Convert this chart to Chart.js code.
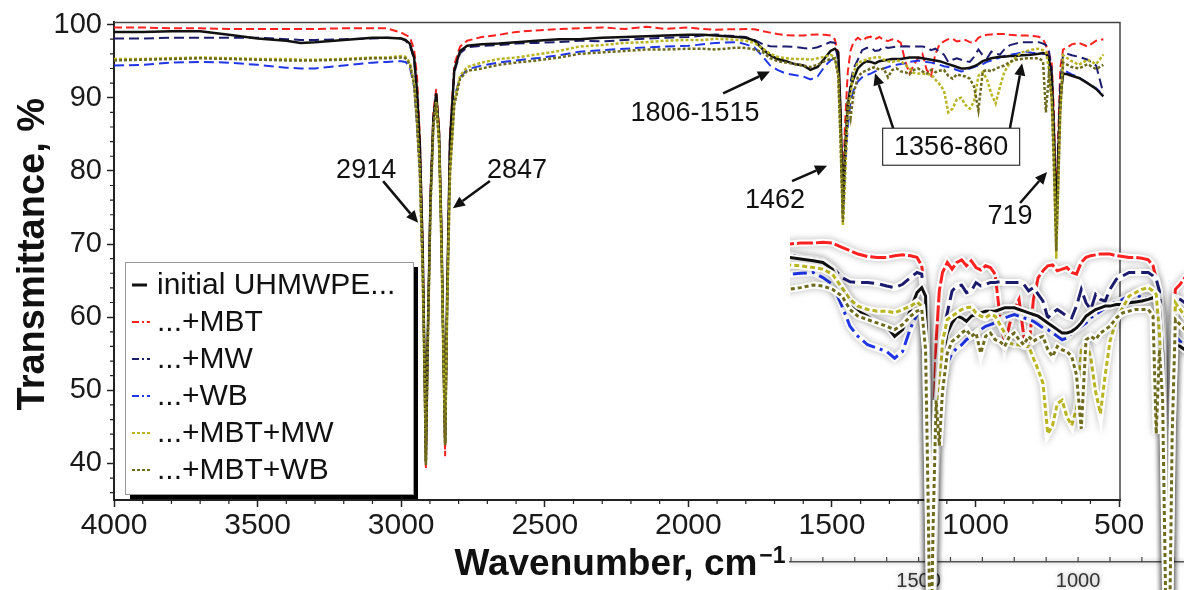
<!DOCTYPE html>
<html>
<head>
<meta charset="utf-8">
<title>FTIR spectra of UHMWPE composites</title>
<script src="https://cdn.jsdelivr.net/npm/chart.js@4.4.1/dist/chart.umd.min.js"></script>
<style>
  html, body { margin: 0; padding: 0; background: #fff; }
  #wrap { position: relative; width: 1184px; height: 590px; overflow: hidden; }
  #main, #inset { position: absolute; }
  #main { left: 0; top: 0; }
  #inset { left: 770px; top: 225px; }
</style>
</head>
<body>
<div id="wrap">
  <canvas id="main" width="1184" height="590"></canvas>
  <canvas id="inset" width="414" height="365"></canvas>
</div>
<script>
// --- DATA (wavenumber, cm-1 / transmittance, %) ---
const wavenumbers = [
  4000, 3900, 3800, 3700, 3600, 3500, 3400, 3350, 3300, 3200, 3100, 3050, 3000,
  2985, 2970, 2955, 2945, 2935, 2925, 2918, 2914, 2908, 2898, 2888, 2878, 2868, 2860, 2853, 2847, 2840, 2830, 2815, 2795, 2770,
  2720, 2660, 2600, 2530, 2450, 2380, 2300, 2220, 2145, 2080, 2000, 1950,
  1905, 1870, 1830, 1800, 1770, 1740, 1715, 1690, 1660, 1630,
  1600, 1575, 1550, 1525, 1505, 1490, 1478, 1470, 1462, 1455,
  1445, 1435, 1425, 1410, 1395, 1380, 1365, 1350, 1335, 1320,
  1305, 1290, 1275, 1260, 1245, 1230, 1215, 1200, 1185, 1170,
  1155, 1140, 1125, 1110, 1095, 1080, 1065, 1050, 1035, 1020,
  1005, 990, 975, 960, 945, 930, 915, 900, 880, 860,
  840, 820, 800, 780, 765, 755, 745, 735, 727, 719,
  712, 705, 695, 680, 665,
  640, 610, 580, 555
];

const initialUhmwpe = [
  99.0, 99.0, 99.1, 99.1, 98.6, 98.1, 97.8, 97.5, 97.6, 97.9, 98.2, 98.2, 98.1,
  97.9, 97.4, 95.5, 91.0, 83.5, 69.0, 52.0, 40.3, 56.0, 76.0, 87.0, 90.6, 85.0, 72.0, 56.0, 42.8, 63.0, 84.0, 93.8, 96.4, 97.1,
  97.3, 97.4, 97.6, 97.8, 98.0, 98.0, 98.2, 98.3, 98.4, 98.5, 98.6, 98.6,
  98.5, 98.4, 98.3, 98.2, 97.8, 96.6, 95.8, 95.3, 95.0, 94.6,
  94.4, 93.8, 94.2, 95.4, 96.4, 96.7, 96.2, 88.0, 74.0, 82.0,
  89.0, 91.4, 92.6, 94.0, 94.6, 95.0, 94.9, 94.7, 95.0, 95.1,
  95.2, 95.3, 95.3, 95.3, 95.4, 95.5, 95.5, 95.5, 95.4, 95.3,
  95.2, 95.1, 95.0, 94.8, 94.6, 94.4, 94.2, 94.0, 94.0, 94.1,
  94.3, 94.6, 95.0, 95.2, 95.4, 95.5, 95.6, 95.6, 95.7, 95.7,
  95.8, 95.85, 95.9, 96.0, 96.1, 96.0, 95.5, 93.0, 85.0, 72.0,
  82.0, 90.0, 93.3, 93.2, 93.0,
  92.7, 92.0, 91.2, 90.2
];

const plusMbt = [
  99.6, 99.6, 99.5, 99.5, 99.4, 99.4, 99.4, 99.4, 99.4, 99.5, 99.5, 99.5, 98.9,
  98.6, 98.3, 96.6, 93.0, 84.5, 70.0, 52.0, 39.2, 55.0, 77.0, 88.0, 91.2, 86.0, 72.0, 55.0, 41.0, 62.0, 85.0, 94.5, 97.0, 97.8,
  98.3, 98.6, 99.0, 99.2, 99.4, 99.5, 99.6, 99.4, 99.7, 99.4, 99.6, 99.4,
  99.3, 99.35, 99.35, 99.4, 99.35, 99.1, 98.9, 98.7, 98.55, 98.5,
  98.5, 98.6, 98.65, 98.6, 98.5, 98.0, 96.0, 88.0, 76.0, 86.0,
  93.5, 96.5, 97.6, 98.2, 97.8, 98.2, 98.35, 98.0, 98.3, 97.9,
  97.75, 98.0, 97.9, 97.5, 95.0, 93.3, 94.5, 95.4, 96.0, 93.8,
  93.0, 96.0, 97.3, 97.7, 98.0, 98.05, 97.7, 97.8, 97.9, 97.6,
  97.5, 98.2, 98.5, 98.6, 98.65, 98.7, 98.7, 98.7, 98.6, 98.55,
  98.5, 98.5, 98.45, 98.35, 98.0, 97.2, 96.0, 95.0, 88.0, 74.0,
  85.0, 94.0, 96.6, 96.9, 97.3,
  97.5, 97.0, 97.8, 98.0
];

const plusMw = [
  98.1, 98.1, 98.2, 98.2, 98.2, 98.2, 98.0, 97.9, 97.9, 98.0, 98.1, 98.2, 98.1,
  97.8, 97.2, 95.2, 90.5, 83.0, 68.5, 52.0, 40.3, 56.0, 76.0, 87.0, 90.2, 85.0, 72.0, 56.0, 42.8, 63.0, 84.0, 93.5, 96.1, 96.9,
  97.1, 97.2, 97.4, 97.5, 97.6, 97.8, 97.7, 97.9, 98.1, 98.2, 98.3, 98.5,
  98.65, 98.5, 98.4, 98.3, 97.9, 97.3, 97.05, 97.0, 97.0, 96.95,
  96.8, 96.7, 96.9, 97.3, 97.6, 97.5, 95.0, 86.0, 75.0, 80.0,
  88.0, 92.2, 94.0, 95.2, 96.5, 96.8, 96.85, 96.4, 96.5, 97.0,
  96.8, 96.9, 97.0, 97.0, 97.05, 97.0, 97.0, 97.0, 97.0, 96.9,
  96.5, 96.7, 96.3, 95.9, 94.9, 95.2, 95.4, 95.2, 95.0, 94.9,
  95.6, 96.6, 95.8, 95.4, 96.3, 96.0, 95.9, 96.6, 97.2, 97.4,
  97.6, 97.6, 97.6, 97.6, 97.4, 97.2, 96.5, 94.0, 86.0, 73.0,
  83.0, 92.0, 96.1, 96.0, 95.8,
  95.6, 95.2, 94.4, 90.6
];

const plusWb = [
  94.4, 94.5, 94.8, 94.9, 94.8, 94.5, 94.1, 94.0, 94.0, 94.4, 94.8, 94.9, 95.0,
  94.9, 94.2, 91.5, 86.5, 79.5, 66.0, 51.0, 40.3, 56.0, 76.0, 87.0, 90.0, 84.0, 70.0, 55.0, 42.8, 61.0, 80.5, 90.0, 92.8, 93.9,
  94.4, 94.8, 95.1, 95.4, 95.8, 96.3, 96.5, 96.7, 96.9, 97.0, 97.1, 97.3,
  97.5, 97.55, 97.6, 97.3, 96.9, 95.6, 94.4, 93.8, 93.3, 93.1,
  92.9, 92.5, 92.9, 94.3, 95.1, 95.4, 94.5, 87.0, 74.0, 80.0,
  86.0, 89.5, 91.0, 92.2, 92.8, 93.1, 93.3, 93.6, 93.8, 94.0,
  94.2, 94.4, 94.5, 94.6, 94.7, 94.9, 95.0, 95.1, 95.0, 94.9,
  94.8, 94.7, 94.5, 94.3, 94.2, 94.0, 93.8, 93.6, 93.7, 94.0,
  94.2, 94.4, 94.6, 94.9, 95.1, 95.3, 95.5, 95.7, 95.85, 96.0,
  96.2, 96.3, 96.1, 96.1, 96.0, 96.0, 95.5, 92.0, 84.0, 71.0,
  80.0, 89.0, 93.8, 93.5, 93.2,
  92.8, 92.0, 91.3, 90.4
];

const plusMbtMw = [
  95.3, 95.3, 95.4, 95.5, 95.4, 95.3, 95.3, 95.2, 95.2, 95.3, 95.5, 95.5, 95.7,
  95.6, 94.8, 92.0, 87.0, 80.0, 66.0, 51.0, 40.3, 55.0, 75.0, 86.0, 89.5, 84.0, 70.0, 55.0, 42.8, 61.0, 80.0, 89.5, 93.0, 94.2,
  94.8, 95.3, 95.5, 95.9, 96.4, 97.0, 97.2, 97.5, 97.6, 97.8, 97.9, 97.9,
  98.05, 98.0, 97.9, 97.8, 97.5, 96.7, 96.0, 95.6, 95.4, 95.3,
  95.3, 95.2, 95.4, 95.6, 95.85, 95.6, 93.0, 84.0, 72.5, 78.0,
  88.2, 90.5, 93.5, 94.8, 95.0, 95.2, 95.4, 95.5, 95.55, 95.2,
  95.0, 94.9, 95.1, 95.0, 94.5, 94.0, 93.4, 93.3, 93.3, 93.2,
  93.2, 92.5, 91.8, 91.0, 88.0, 88.5, 89.8, 90.0, 89.0, 88.5,
  89.5, 93.0, 93.5, 92.5, 90.5, 89.2, 91.5, 93.5, 94.8, 95.5,
  96.2, 96.4, 96.6, 96.7, 96.5, 96.3, 94.0, 90.0, 82.0, 68.0,
  78.0, 88.0, 95.8, 95.4, 95.0,
  94.5, 95.2, 94.6, 95.9
];

const plusMbtWb = [
  95.1, 95.2, 95.3, 95.4, 95.3, 95.2, 95.1, 95.1, 95.1, 95.2, 95.4, 95.4, 95.5,
  95.4, 94.6, 91.8, 86.5, 79.5, 65.5, 50.5, 39.8, 55.0, 75.0, 86.0, 89.3, 83.5, 70.0, 55.0, 42.5, 60.5, 79.5, 89.0, 92.6, 93.7,
  94.0, 94.5, 94.8, 95.1, 95.5, 96.0, 96.2, 96.4, 96.6, 96.6, 96.7, 96.7,
  96.6, 96.7, 96.85, 96.8, 96.6, 96.2, 95.4, 95.0, 94.8, 94.6,
  94.4, 94.2, 94.5, 95.0, 95.3, 95.4, 93.0, 84.0, 73.0, 82.0,
  90.0, 87.3, 90.5, 92.8, 93.5, 93.7, 94.0, 94.2, 93.8, 94.0,
  92.8, 93.8, 94.0, 93.6, 93.5, 93.2, 93.8, 94.0, 93.6, 93.3,
  93.8, 93.5, 93.7, 93.8, 93.0, 92.6, 93.2, 93.0, 92.9, 92.6,
  91.5, 88.3, 93.6, 93.8, 93.6, 94.0, 94.2, 94.4, 94.9, 95.2,
  95.3, 95.4, 95.4, 95.4, 95.0, 88.0, 93.0, 90.0, 80.0, 69.0,
  78.0, 88.0, 94.8, 94.5, 94.2,
  94.0, 94.6, 93.9, 94.5
];

const seriesLabels = ['initial UHMWPE...', '...+MBT', '...+MW', '...+WB', '...+MBT+MW', '...+MBT+WB'];
const seriesValues = [initialUhmwpe, plusMbt, plusMw, plusWb, plusMbtMw, plusMbtWb];

const xTicksMain = [4000, 3500, 3000, 2500, 2000, 1500, 1000, 500];
const yTicksMain = [40, 50, 60, 70, 80, 90, 100];
const xTicksInset = [1900, 1800, 1700, 1600, 1500, 1400, 1300, 1200, 1100, 1000, 900, 800, 700];
const xLabelsInset = [1500, 1000];

// peak labels and arrows, anchored in data units (wavenumber, %T)
const peakLabels = [
  { text: '2914', wn: 3122, t: 80.1 },
  { text: '2847', wn: 2597, t: 80.1 },
  { text: '1806-1515', wn: 1977, t: 87.9 },
  { text: '1462', wn: 1698, t: 76.0 },
  { text: '719', wn: 880, t: 73.7 }
];
const boxedLabel = { text: '1356-860', wn: 1085, t: 83.3 };
const peakArrows = [
  [3063, 78.6, 2941, 72.9],
  [2691, 78.6, 2820, 74.9],
  [1879, 90.6, 1716, 93.6],
  [1639, 78.6, 1517, 80.7],
  [845, 75.6, 751, 79.85],
  [1287, 85.85, 1350, 93.35],
  [880, 85.85, 838, 94.7]
];

// --- STYLES ---
const FONT = "'Liberation Sans', Arial, Helvetica, sans-serif";
const STYLES = [
  { color: '#111111', width: 2.5, dash: [], insetDash: [], legendDash: [], order: 2 },
  { color: '#ff2020', width: 2, dash: [8, 4], insetDash: [16, 3], legendDash: [7, 3, 2, 3], order: 5 },
  { color: '#1c1c6e', width: 2, dash: [10, 5], insetDash: [13, 6], legendDash: [7, 3, 2, 3], order: 4 },
  { color: '#1f35e6', width: 2, dash: [10, 5], insetDash: [14, 5, 3, 5], legendDash: [7, 3, 2, 3], order: 3 },
  { color: '#b8b422', width: 2.5, dash: [3, 2], insetDash: [5, 3], legendDash: [3, 2], order: 1 },
  { color: '#6e6a1e', width: 2.5, dash: [3, 2], insetDash: [4, 3], legendDash: [3, 2], order: 0 }
];

const toPoints = (vals) => wavenumbers.map((x, i) => ({ x, y: vals[i] }));

const drawArrow = (ctx, x1, y1, x2, y2) => {
  const ang = Math.atan2(y2 - y1, x2 - x1);
  const head = 12, half = 5.5;
  const bx = x2 - head * Math.cos(ang), by = y2 - head * Math.sin(ang);
  ctx.beginPath(); ctx.moveTo(x1, y1); ctx.lineTo(bx, by); ctx.stroke();
  ctx.beginPath(); ctx.moveTo(x2, y2);
  ctx.lineTo(bx + half * Math.sin(ang), by - half * Math.cos(ang));
  ctx.lineTo(bx - half * Math.sin(ang), by + half * Math.cos(ang));
  ctx.closePath(); ctx.fill();
};

// --- MAIN CHART DECORATION (frame, minor ticks, titles, legend, peak labels) ---
const mainDecor = {
  id: 'mainDecor',
  afterDraw(chart) {
    const { ctx, chartArea: a, scales: { x, y } } = chart;
    ctx.save();

    // top / right frame
    ctx.strokeStyle = '#444'; ctx.lineWidth = 1.5;
    ctx.beginPath(); ctx.moveTo(a.left, a.top); ctx.lineTo(a.right, a.top); ctx.lineTo(a.right, a.bottom); ctx.stroke();

    // minor ticks
    ctx.strokeStyle = '#222'; ctx.lineWidth = 1.2;
    ctx.beginPath();
    for (let v = 600; v < 4000; v += 100) {
      if (v % 500 === 0) continue;
      const px = x.getPixelForValue(v);
      ctx.moveTo(px, a.bottom); ctx.lineTo(px, a.bottom + 4);
    }
    for (let v = 36; v < 100; v += 2) {
      if (v % 10 === 0) continue;
      const py = y.getPixelForValue(v);
      ctx.moveTo(a.left, py); ctx.lineTo(a.left - 4, py);
    }
    ctx.stroke();

    // axis titles
    ctx.fillStyle = '#111';
    ctx.save();
    ctx.translate(44, (a.top + a.bottom) / 2 - 7);
    ctx.rotate(-Math.PI / 2);
    ctx.font = `bold 38px ${FONT}`; ctx.textAlign = 'center'; ctx.textBaseline = 'alphabetic';
    ctx.fillText('Transmittance, %', 0, 0);
    ctx.restore();

    const xt = 'Wavenumber, cm', sup = '\u22121';
    ctx.font = `bold 37px ${FONT}`; const w1 = ctx.measureText(xt).width;
    ctx.font = `bold 23px ${FONT}`; const w2 = ctx.measureText(sup).width;
    const start = (a.left + a.right) / 2 + 3 - (w1 + w2 + 2) / 2;
    ctx.textAlign = 'left'; ctx.textBaseline = 'alphabetic';
    ctx.font = `bold 37px ${FONT}`; ctx.fillText(xt, start, 575);
    ctx.font = `bold 23px ${FONT}`; ctx.fillText(sup, start + w1 + 2, 563);

    // legend box with drop shadow
    const box = { x: 125, y: 262, w: 288, h: 232 };
    ctx.fillStyle = '#000'; ctx.fillRect(box.x + 5, box.y + 5, box.w, box.h);
    ctx.fillStyle = '#fff'; ctx.fillRect(box.x, box.y, box.w, box.h);
    ctx.strokeStyle = '#999'; ctx.lineWidth = 1;
    ctx.strokeRect(box.x + 0.5, box.y + 0.5, box.w, box.h);
    ctx.font = `30px ${FONT}`; ctx.textBaseline = 'middle';
    seriesLabels.forEach((label, i) => {
      const st = STYLES[i];
      const yy = box.y + 23 + i * 37;
      ctx.strokeStyle = st.color; ctx.lineWidth = i === 0 ? 3 : 2;
      ctx.setLineDash(st.legendDash);
      ctx.beginPath(); ctx.moveTo(box.x + 7, yy); ctx.lineTo(box.x + (i === 0 ? 22 : 25), yy); ctx.stroke();
      ctx.setLineDash([]);
      ctx.fillStyle = '#111';
      ctx.fillText(label, box.x + 32, yy + 1);
    });

    // peak labels & arrows
    ctx.font = `27px ${FONT}`; ctx.textAlign = 'center'; ctx.textBaseline = 'middle';
    ctx.fillStyle = '#111';
    peakLabels.forEach(p => ctx.fillText(p.text, x.getPixelForValue(p.wn), y.getPixelForValue(p.t)));
    const bx = x.getPixelForValue(boxedLabel.wn), by = y.getPixelForValue(boxedLabel.t);
    ctx.fillStyle = '#fff'; ctx.fillRect(bx - 68.5, by - 18.5, 137, 37);
    ctx.strokeStyle = '#333'; ctx.lineWidth = 1.2; ctx.strokeRect(bx - 68.5, by - 18.5, 137, 37);
    ctx.fillStyle = '#111'; ctx.fillText(boxedLabel.text, bx, by + 1);

    ctx.strokeStyle = '#111'; ctx.fillStyle = '#111'; ctx.lineWidth = 2.5;
    peakArrows.forEach(([w1a, t1, w2a, t2]) => drawArrow(ctx,
      x.getPixelForValue(w1a), y.getPixelForValue(t1), x.getPixelForValue(w2a), y.getPixelForValue(t2)));

    ctx.restore();
  }
};

// --- MAIN CHART ---
new Chart(document.getElementById('main'), {
  type: 'line',
  data: {
    datasets: seriesValues.map((vals, i) => ({
      label: seriesLabels[i],
      data: toPoints(vals),
      borderColor: STYLES[i].color,
      borderWidth: STYLES[i].width,
      borderDash: STYLES[i].dash,
      order: STYLES[i].order,
      pointRadius: 0, tension: 0, fill: false
    }))
  },
  options: {
    responsive: false, animation: false, devicePixelRatio: 1,
    layout: { padding: { left: 0, top: 21, right: 64, bottom: 0 } },
    plugins: { legend: { display: false }, tooltip: { enabled: false } },
    scales: {
      x: {
        type: 'linear', reverse: true, min: 497, max: 4000,
        afterBuildTicks: s => { s.ticks = xTicksMain.map(v => ({ value: v })); },
        afterFit: s => { s.height = 90; },
        grid: { drawOnChartArea: false, tickLength: 7, tickColor: '#222', tickWidth: 1.5 },
        border: { color: '#222', width: 2 },
        ticks: { font: { family: FONT, size: 30 }, color: '#1a1a1a', padding: 1, maxRotation: 0, autoSkip: false,
                 callback: v => String(v) }
      },
      y: {
        type: 'linear', min: 35, max: 100.3,
        afterBuildTicks: s => { s.ticks = yTicksMain.map(v => ({ value: v })); },
        afterFit: s => { s.width = 114; },
        grid: { drawOnChartArea: false, tickLength: 7, tickColor: '#222', tickWidth: 1.5 },
        border: { color: '#222', width: 2 },
        ticks: { font: { family: FONT, size: 29 }, color: '#1a1a1a', padding: 5, autoSkip: false,
                 callback: v => String(v) }
      }
    }
  },
  plugins: [mainDecor]
});

// --- INSET (magnified 1900-660 cm-1 region, lines with white halo) ---
const insetDecor = {
  id: 'insetDecor',
  beforeDraw(chart) {
    const ctx = chart.ctx;
    ctx.save();
    ctx.shadowColor = 'rgba(0,0,0,0.35)'; ctx.shadowBlur = 5;
  },
  beforeDatasetsDraw(chart) {
    const { ctx, chartArea: a, scales: { x } } = chart;
    ctx.restore();
    ctx.save();
    ctx.strokeStyle = '#444'; ctx.lineWidth = 1.2;
    ctx.beginPath();
    xTicksInset.forEach(v => {
      const px = x.getPixelForValue(v);
      ctx.moveTo(px, a.bottom); ctx.lineTo(px, a.bottom - 5);
    });
    ctx.stroke();
    ctx.restore();
  },
  beforeDatasetDraw(chart, args) {
    if (!chart.data.datasets[args.index].halo) return;
    const ctx = chart.ctx;
    ctx.save();
    ctx.shadowColor = 'rgba(0,0,0,0.28)'; ctx.shadowBlur = 7;
  },
  afterDatasetDraw(chart, args) {
    if (chart.data.datasets[args.index].halo) chart.ctx.restore();
  }
};

const insetClip = { left: 0, right: 0, top: false, bottom: false };
const insetDatasets = [];
seriesValues.forEach((vals, i) => {
  const st = STYLES[i];
  insetDatasets.push({ halo: true, data: toPoints(vals), borderColor: '#ffffff', borderWidth: 7,
    order: st.order * 2 + 1, pointRadius: 0, tension: 0, fill: false, clip: insetClip });
  insetDatasets.push({ data: toPoints(vals), borderColor: st.color, borderWidth: 3, borderDash: st.insetDash,
    order: st.order * 2, pointRadius: 0, tension: 0, fill: false, clip: insetClip });
});

new Chart(document.getElementById('inset'), {
  type: 'line',
  data: { datasets: insetDatasets },
  options: {
    responsive: false, animation: false, devicePixelRatio: 1,
    layout: { padding: { left: 20, top: 5, right: 0, bottom: 0 } },
    plugins: { legend: { display: false }, tooltip: { enabled: false } },
    scales: {
      x: {
        type: 'linear', reverse: true, min: 668, max: 1903,
        afterBuildTicks: s => { s.ticks = xTicksInset.map(v => ({ value: v })); },
        afterFit: s => { s.height = 28; },
        grid: { display: true, drawOnChartArea: false, drawTicks: false },
        border: { display: true, color: '#555', width: 1.5 },
        ticks: { font: { family: FONT, size: 20 }, color: '#333', padding: 7, maxRotation: 0, autoSkip: false,
                 callback: v => (xLabelsInset.includes(v) ? String(v) : '') }
      },
      y: { type: 'linear', display: false, min: 80.37, max: 100.13 }
    }
  },
  plugins: [insetDecor]
});
</script>
</body>
</html>
